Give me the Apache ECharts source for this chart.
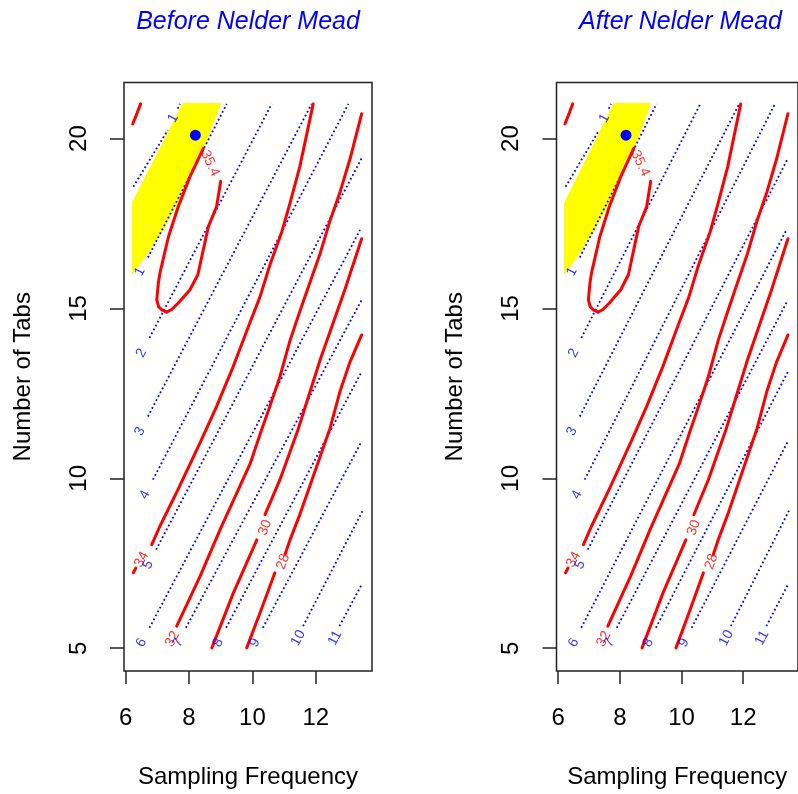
<!DOCTYPE html>
<html>
<head>
<meta charset="utf-8">
<script src="https://cdn.jsdelivr.net/npm/echarts@6/dist/echarts.min.js"></script>
<style>
html, body { margin: 0; padding: 0; background: #fff; }
#main { width: 798px; height: 794px; }
</style>
</head>
<body>
<div id="main"></div>
<script>
var panelTitles = ['Before Nelder Mead', 'After Nelder Mead'];
var xTicks = [6, 8, 10, 12];
var yTicks = [5, 10, 15, 20];

// yellow region (blue level below 1) and the start point
var yellowArea = [[7.80, 21.05], [9.01, 21.05], [8.50, 19.76], [7.98, 18.78], [7.66, 18.10],
    [7.19, 17.31], [6.71, 16.63], [6.24, 16.04], [6.19, 15.99], [6.19, 18.10]];
var bestPoint = [[8.2, 20.1]];

// red contours (solid)
var redCorner = [[6.47, 21.02], [6.36, 20.75], [6.22, 20.43]];
var red354 = [[8.45, 19.71], [8.03, 18.88], [7.66, 18.0], [7.35, 17.11], [7.08, 16.04], [7.03, 15.74],
    [6.98, 15.25], [7.04, 15.05], [7.14, 14.96], [7.29, 14.89], [7.45, 14.97], [7.66, 15.16],
    [8.03, 15.55], [8.28, 16.0], [8.42, 16.6], [8.61, 17.41], [8.87, 18.0], [9.0, 18.74]];
var red34 = [[11.92, 21.02], [11.50, 19.18], [11.19, 18.11], [10.93, 17.26], [10.56, 16.30],
    [10.24, 15.34], [9.93, 14.60], [9.39, 13.28], [8.87, 12.12], [8.35, 11.05], [7.65, 9.67],
    [7.08, 8.59], [6.82, 8.05]];
var red34b = [[6.32, 7.36], [6.24, 7.22]];
var red32 = [[13.45, 20.73], [13.08, 19.39], [12.77, 18.43], [12.45, 17.58], [12.14, 16.62],
    [11.82, 15.77], [11.50, 14.92], [11.19, 14.06], [10.87, 12.99], [10.56, 12.14], [10.24, 11.29],
    [9.93, 10.43], [8.98, 8.49], [8.35, 7.12], [7.61, 5.65]];
var red30 = [[13.45, 17.05], [12.92, 15.55], [12.14, 13.49], [11.44, 11.43], [10.87, 9.96], [10.40, 8.93]];
var red30b = [[10.14, 8.19], [9.40, 6.63], [8.72, 5.01]];
var red28 = [[13.45, 14.22], [13.08, 13.42], [12.77, 12.57], [12.45, 11.47], [12.14, 10.64],
    [11.82, 9.79], [11.50, 8.94], [11.19, 8.19], [11.03, 7.76]];
var red28b = [[10.71, 7.22], [10.24, 6.04], [9.82, 5.01]];

// blue contours (dotted)
var blue1a = [[6.24, 18.58], [7.33, 20.25]];
var blue1aTop = [[7.64, 20.88], [7.71, 21.02]];
var blue1b = [[6.70, 16.50], [9.19, 21.02]];
var blue2 = [[6.75, 14.13], [10.61, 21.02]];
var blue3 = [[6.70, 11.82], [11.87, 21.02]];
var blue4 = [[6.86, 9.96], [13.03, 21.02]];
var blue5 = [[6.96, 7.90], [13.45, 19.42]];
var blue6 = [[6.75, 5.60], [13.40, 17.31]];
var blue7 = [[7.90, 5.60], [13.45, 15.25]];
var blue8 = [[9.17, 5.60], [13.45, 13.14]];
var blue9 = [[10.33, 5.60], [13.45, 11.09]];
var blue10 = [[11.60, 5.65], [13.50, 9.08]];
var blue11 = [[12.75, 5.65], [13.45, 6.87]];

// contour labels
var redLabelText = ['35.4', '34', '32', '30', '28'];
var redLabelPos = [[8.66, 19.27], [6.50, 7.61], [7.48, 5.27], [10.40, 8.55], [10.97, 7.55]];
var redLabelAngle = [-65, 62, 62, 70, 70];
var blueLabelText = ['1', '1', '2', '3', '4', '5', '6', '7', '8', '9', '10', '11'];
var blueLabelPos = [[7.50, 20.60], [6.45, 16.08], [6.50, 13.69], [6.45, 11.38], [6.61, 9.52], [6.71, 7.46],
    [6.50, 5.16], [7.66, 5.16], [8.92, 5.16], [10.08, 5.16], [11.45, 5.30], [12.61, 5.30]];
var blueLabelAngle = [62, 62, 62, 62, 62, 62, 62, 62, 62, 62, 62, 62];

var font = 'Liberation Sans, Arial, sans-serif';
var gridLefts = [124, 556.5];
var titleCenters = [248, 680.5];

var myChart = echarts.init(document.getElementById('main'));

function contour(i, data, isRed) {
    return {
        type: 'line',
        xAxisIndex: i,
        yAxisIndex: i,
        data: data,
        symbol: 'none',
        silent: true,
        animation: false,
        z: isRed ? 4 : 3,
        lineStyle: isRed ? { color: '#FF0000', width: 3, cap: 'round', join: 'round', opacity: 1 }
                         : { color: '#0000FF', width: 1.8, type: [1.8, 2.6], opacity: 1 }
    };
}

function labels(i, text, pos, angle, color) {
    var items = [];
    for (var k = 0; k < text.length; k++) {
        items.push({
            value: pos[k],
            label: { formatter: text[k], rotate: angle[k] }
        });
    }
    return {
        type: 'scatter',
        xAxisIndex: i,
        yAxisIndex: i,
        symbolSize: 1,
        silent: true,
        animation: false,
        z: 6,
        itemStyle: { color: 'rgba(0,0,0,0)' },
        label: { show: true, position: 'inside', color: color, fontSize: 14, fontFamily: font },
        data: items
    };
}

var grids = [], xAxes = [], yAxes = [], series = [], titles = [];

for (var i = 0; i < 2; i++) {
    titles.push({
        text: panelTitles[i],
        left: titleCenters[i],
        top: 10,
        padding: 0,
        textAlign: 'center',
        textStyle: { color: '#0000FF', fontStyle: 'italic', fontWeight: 'normal', fontSize: 25, fontFamily: font }
    });
    grids.push({
        left: gridLefts[i], top: 82.5, width: 248, height: 589,
        show: true, borderColor: '#222', borderWidth: 1.5, backgroundColor: 'transparent'
    });
    xAxes.push({
        type: 'value', gridIndex: i, min: 5.946, max: 13.777,
        name: 'Sampling Frequency', nameLocation: 'middle', nameGap: 94,
        nameTextStyle: { fontSize: 24, color: '#000', fontFamily: font },
        axisLine: { show: false },
        splitLine: { show: false },
        axisTick: { show: true, length: 13, customValues: xTicks, lineStyle: { color: '#222', width: 1.5 } },
        axisLabel: { customValues: xTicks, margin: 35, fontSize: 24, color: '#000', fontFamily: font }
    });
    yAxes.push({
        type: 'value', gridIndex: i, min: 4.33, max: 21.65,
        name: 'Number of Tabs', nameLocation: 'middle', nameGap: 89, nameRotate: 90,
        nameTextStyle: { fontSize: 24, color: '#000', fontFamily: font },
        axisLine: { show: false },
        splitLine: { show: false },
        axisTick: { show: true, length: 14, customValues: yTicks, lineStyle: { color: '#222', width: 1.5 } },
        axisLabel: { customValues: yTicks, margin: 33, rotate: 90, fontSize: 24, color: '#000', fontFamily: font }
    });

    series.push({
        type: 'custom',
        xAxisIndex: i,
        yAxisIndex: i,
        silent: true,
        animation: false,
        z: 1,
        data: yellowArea,
        renderItem: function (params, api) {
            if (params.dataIndex !== 0) return;
            var pts = yellowArea.map(function (p) { return api.coord(p); });
            return { type: 'polygon', shape: { points: pts }, style: { fill: '#FFFF00' } };
        }
    });

    [blue1a, blue1aTop, blue1b, blue2, blue3, blue4, blue5, blue6, blue7, blue8, blue9, blue10, blue11]
        .forEach(function (d) { series.push(contour(i, d, false)); });
    [redCorner, red354, red34, red34b, red32, red30, red30b, red28, red28b]
        .forEach(function (d) { series.push(contour(i, d, true)); });

    series.push({
        type: 'scatter',
        xAxisIndex: i,
        yAxisIndex: i,
        data: bestPoint,
        symbolSize: 11,
        silent: true,
        animation: false,
        z: 7,
        itemStyle: { color: '#0000FF', opacity: 1 }
    });
    series.push(labels(i, redLabelText, redLabelPos, redLabelAngle, '#FF0000'));
    series.push(labels(i, blueLabelText, blueLabelPos, blueLabelAngle, '#0000FF'));
}

option = {
    backgroundColor: '#FFFFFF',
    animation: false,
    title: titles,
    grid: grids,
    xAxis: xAxes,
    yAxis: yAxes,
    series: series
};

myChart.setOption(option);
</script>
</body>
</html>
